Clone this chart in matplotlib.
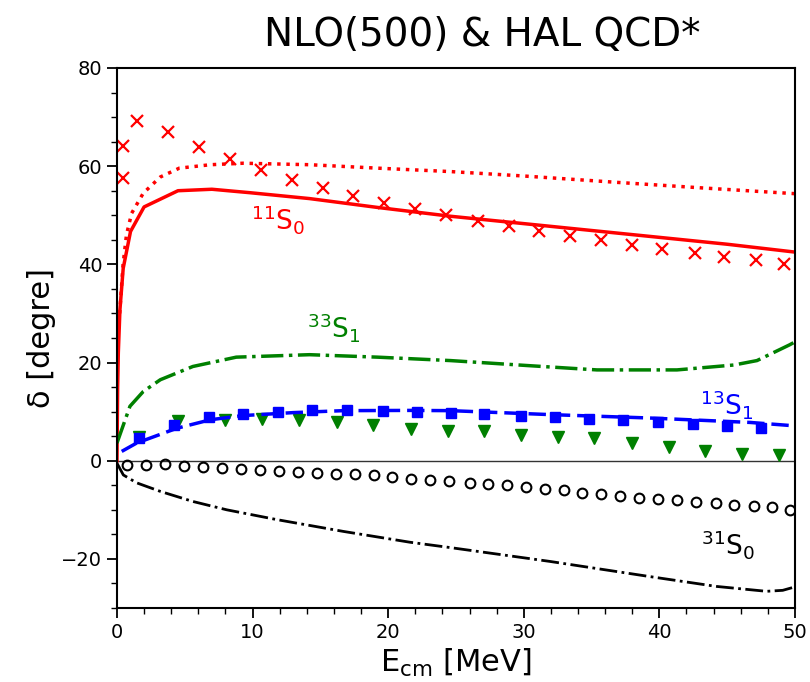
import numpy as np
import matplotlib.pyplot as plt

# 11S0: HAL QCD points and NLO curves
x_11_hal = [0.42, 0.42, 1.5, 3.8, 6.07, 8.33, 10.6, 12.9, 15.2, 17.4, 19.7, 22.0, 24.3,
            26.6, 28.9, 31.1, 33.4, 35.7, 38.0, 40.2, 42.6, 44.8, 47.1, 49.2]
y_11_hal = [64.2, 57.6, 69.2, 66.9, 63.9, 61.4, 59.3, 57.2, 55.5, 54.0, 52.5, 51.3, 50.1,
            48.9, 47.9, 46.8, 45.8, 44.9, 44.0, 43.2, 42.3, 41.6, 40.8, 40.1]
x_11_nlo = [0.0, 0.05, 0.1, 0.22, 0.46, 1.0, 2.0, 4.5, 7.0, 9.8, 14.2, 19.2, 24.6, 30, 35, 40, 45, 50]
y_11_nlo = [0.0, 15, 22, 30.8, 39.2, 46.7, 51.7, 55.0, 55.3, 54.6, 53.4, 51.6, 49.8, 48.3, 46.9, 45.5, 44.1, 42.5]
x_11_dot = [0.2, 0.45, 0.7, 1.08, 1.94, 3.2, 4.6, 6.9, 9.3, 14.2, 19.2, 24.6, 30, 36.9, 43, 50]
y_11_dot = [30, 40, 46, 50.4, 54.5, 57.8, 59.6, 60.3, 60.6, 60.3, 59.6, 58.9, 58.0, 56.7, 55.6, 54.4]

# 33S1
x_33_nlo = [0.0, 0.96, 1.94, 3.2, 5.6, 8.8, 14.2, 19.2, 24.6, 30.2, 35.4, 41.3, 45.5, 47.2, 49.6, 50]
y_33_nlo = [3.6, 11.1, 14.1, 16.5, 19.2, 21.1, 21.6, 21.1, 20.4, 19.4, 18.5, 18.5, 19.5, 20.4, 23.6, 24.2]
x_33_hal = [1.65, 4.5, 8.0, 10.7, 13.4, 16.2, 18.9, 21.7, 24.4, 27.1, 29.8, 32.5, 35.2,
            37.96, 40.7, 43.4, 46.1, 48.8]
y_33_hal = [4.9, 8.0, 8.35, 8.55, 8.35, 7.8, 7.3, 6.4, 6.1, 6.0, 5.3, 4.8, 4.6,
            3.6, 2.7, 1.9, 1.4, 1.2]

# 13S1
x_13_hal = [1.65, 4.2, 6.8, 9.3, 11.9, 14.4, 17.0, 19.6, 22.1, 24.6, 27.1, 29.8, 32.3,
            34.8, 37.3, 39.9, 42.5, 45.0, 47.5]
y_13_hal = [4.6, 7.3, 8.9, 9.6, 10.0, 10.4, 10.4, 10.2, 10.0, 9.7, 9.6, 9.2, 8.9,
            8.55, 8.2, 7.9, 7.5, 7.0, 6.6]
x_13_nlo = [0.35, 1.45, 4.4, 6.9, 9.3, 13.0, 16.7, 21.6, 24.6, 31.9, 39.3, 46.7, 50]
y_13_nlo = [1.9, 3.6, 6.6, 8.35, 9.2, 9.8, 10.2, 10.25, 10.2, 9.4, 8.7, 7.8, 7.1]

# 31S0
x_31_hal = [0.76, 2.14, 3.54, 4.94, 6.36, 7.77, 9.14, 10.55, 11.95, 13.37, 14.77, 16.15,
            17.55, 18.95, 20.3, 21.7, 23.1, 24.5, 26.0, 27.4, 28.8, 30.2, 31.6, 33.0,
            34.3, 35.7, 37.1, 38.5, 39.9, 41.3, 42.7, 44.2, 45.5, 47.0, 48.3, 49.6]
y_31_hal = [-0.8, -0.8, -0.75, -1.0, -1.3, -1.4, -1.6, -1.8, -2.0, -2.2, -2.4, -2.7,
            -2.8, -3.0, -3.4, -3.7, -3.9, -4.1, -4.5, -4.7, -4.9, -5.4, -5.7, -6.0,
            -6.5, -6.8, -7.1, -7.6, -7.7, -8.1, -8.4, -8.6, -9.0, -9.3, -9.4, -10.1]
x_31_nlo = [0.0, 0.47, 1.45, 3.2, 5.6, 8.1, 11.8, 16.7, 21.6, 24.6, 31.9, 39.3, 44.2, 47.9, 49.1, 50]
y_31_nlo = [-0.5, -2.9, -4.5, -6.25, -8.3, -10.0, -12.0, -14.4, -16.6, -17.7, -20.5, -23.6, -25.6, -26.6, -26.4, -25.7]

fig = plt.figure(figsize=(8.1, 6.82), dpi=100)
ax = fig.add_axes([0.1444, 0.1085, 0.837, 0.7918])

ax.axhline(0, color='#333333', lw=1.0)

ax.plot(x_11_nlo, y_11_nlo, color='red', lw=2.5)
ax.plot(x_11_dot, y_11_dot, color='red', lw=2.5, ls=':')
ax.plot(x_11_hal, y_11_hal, 'x', color='red', ms=8, mew=1.6)

ax.plot(x_33_nlo, y_33_nlo, color='green', lw=2.5, ls='-.')
ax.plot(x_33_hal, y_33_hal, 'v', color='green', ms=8)

ax.plot(x_13_nlo, y_13_nlo, color='blue', lw=2.5, dashes=(5, 2))
ax.plot(x_13_hal, y_13_hal, 's', color='blue', ms=7)

ax.plot(x_31_nlo, y_31_nlo, color='black', lw=2.0, ls='-.')
ax.plot(x_31_hal, y_31_hal, 'o', color='black', ms=7, mfc='none', mew=1.5)

ax.text(11.9, 49.1, r'$^{11}$S$_0$', color='red', fontsize=19, ha='center', va='center')
ax.text(16.0, 27.1, r'$^{33}$S$_1$', color='green', fontsize=19, ha='center', va='center')
ax.text(45.0, 11.4, r'$^{13}$S$_1$', color='blue', fontsize=19, ha='center', va='center')
ax.text(45.1, -17.1, r'$^{31}$S$_0$', color='black', fontsize=19, ha='center', va='center')

ax.set_xlim(0, 50)
ax.set_ylim(-30, 80)
ax.set_xticks([0, 10, 20, 30, 40, 50])
ax.set_xticks(np.arange(0, 51, 2), minor=True)
ax.set_yticks([-20, 0, 20, 40, 60, 80])
ax.set_yticks(np.arange(-30, 81, 5), minor=True)
ax.tick_params(labelsize=14, length=7, width=1.3)
ax.tick_params(which='minor', length=4, width=1.0)
for s in ax.spines.values():
    s.set_linewidth(1.5)

ax.set_xlabel(r'E$_{\rm cm}$ [MeV]', fontsize=22)
ax.set_ylabel('δ [degre]', fontsize=22)
fig.text(0.595, 0.948, 'NLO(500) & HAL QCD*', fontsize=28, ha='center', va='center')

fig.savefig('out.png', dpi=100)
